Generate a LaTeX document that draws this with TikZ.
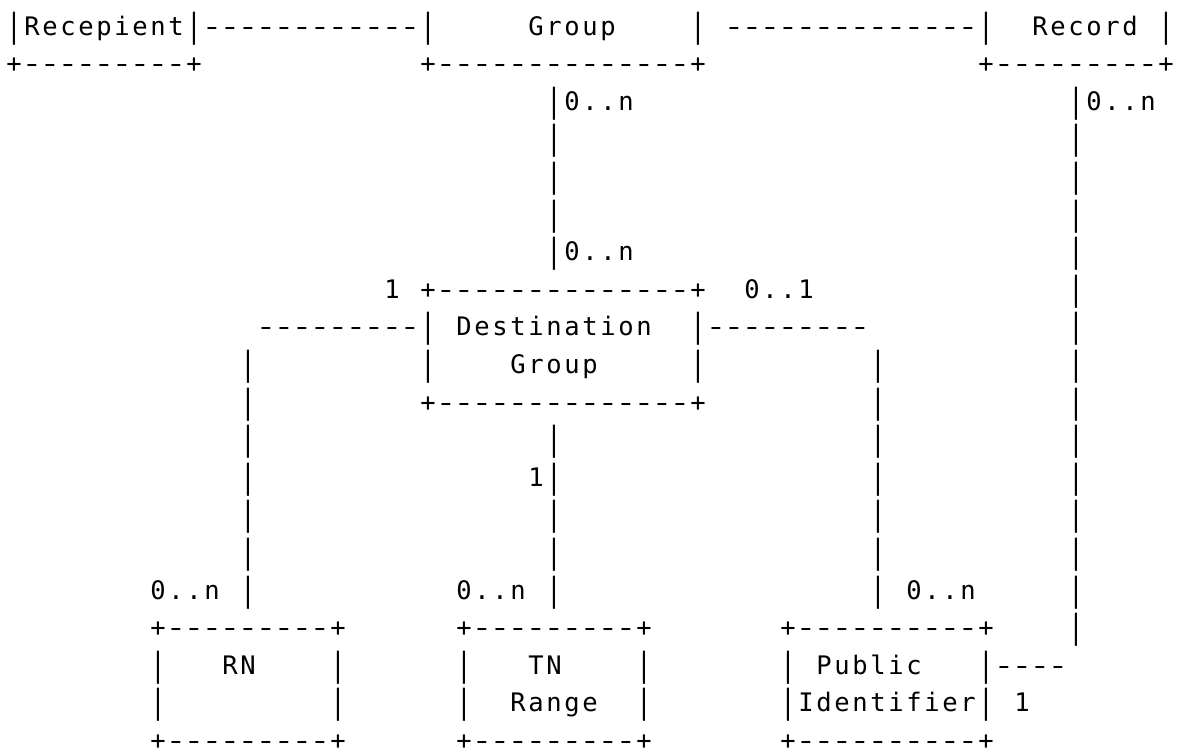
\documentclass[tikz,border=0pt]{standalone}
\usepackage{fontspec}
\usepackage{graphicx}
\newfontfamily\asciifont{DejaVu Sans Mono}
\def\asciistar{*}
\def\asciibar{|}
\def\asciidash{-}
\newcommand\asciicell{\makebox[18pt][c]{\ifx\asciich\asciistar\else
  \ifx\asciich\asciibar\raisebox{-2pt}{\scalebox{1}[1.3]{|}}\else
  \ifx\asciich\asciidash\scalebox{1.35}[1]{-}\else\asciich\fi\fi\fi}}
\makeatletter
\newcommand\asciirow[1]{\@tfor\asciich:=#1\do{\asciicell}}
\makeatother
\tikzset{
  ascii/.style={inner sep=0pt, outer sep=0pt, anchor=base west, text=black,
    font=\asciifont\fontsize{25.5pt}{30pt}\selectfont}
}
% \A{name}{column}{row}{characters, * = blank}
\newcommand\A[4]{\node[ascii] (#1) at ({5pt+18pt*#2},{-35pt-37.6pt*(#3-1)}) {\asciirow{#4}};}
\begin{document}
\begin{tikzpicture}
\fill[white] (0,0) rectangle (1185pt,-753pt);
\useasboundingbox (0,0) rectangle (1185pt,-753pt);
% row 1-2: top boxes
\A{top}{0}{1}{|Recepient|------------|*****Group****|*--------------|**Record*|}
\A{recb}{0}{2}{+---------+}
\A{grpb}{23}{2}{+--------------+}
\A{rcdb}{54}{2}{+---------+}
% rows 3-7
\A{ga3}{30}{3}{|0..n}
\A{ra3}{59}{3}{|0..n}
\A{ga4}{30}{4}{|}
\A{ra4}{59}{4}{|}
\A{ga5}{30}{5}{|}
\A{ra5}{59}{5}{|}
\A{ga6}{30}{6}{|}
\A{ra6}{59}{6}{|}
\A{ga7}{30}{7}{|0..n}
\A{ra7}{59}{7}{|}
% Destination Group box
\A{dgt}{21}{8}{1*+--------------+**0..1}
\A{ra8}{59}{8}{|}
\A{dg1}{14}{9}{---------|*Destination**|---------}
\A{ra9}{59}{9}{|}
\A{la10}{13}{10}{|}
\A{dg2}{23}{10}{|****Group*****|}
\A{pa10}{48}{10}{|}
\A{ra10}{59}{10}{|}
\A{la11}{13}{11}{|}
\A{dgb}{23}{11}{+--------------+}
\A{pa11}{48}{11}{|}
\A{ra11}{59}{11}{|}
% rows 12-16
\A{la12}{13}{12}{|}
\A{ta12}{30}{12}{|}
\A{pa12}{48}{12}{|}
\A{ra12}{59}{12}{|}
\A{la13}{13}{13}{|}
\A{ta13}{29}{13}{1|}
\A{pa13}{48}{13}{|}
\A{ra13}{59}{13}{|}
\A{la14}{13}{14}{|}
\A{ta14}{30}{14}{|}
\A{pa14}{48}{14}{|}
\A{ra14}{59}{14}{|}
\A{la15}{13}{15}{|}
\A{ta15}{30}{15}{|}
\A{pa15}{48}{15}{|}
\A{ra15}{59}{15}{|}
\A{la16}{8}{16}{0..n*|}
\A{ta16}{25}{16}{0..n*|}
\A{pa16}{48}{16}{|*0..n}
\A{ra16}{59}{16}{|}
% bottom boxes
\A{rnt}{8}{17}{+---------+}
\A{tnt}{25}{17}{+---------+}
\A{pit}{43}{17}{+----------+}
\A{ra17}{59}{17}{|}
\A{rn1}{8}{18}{|***RN****|}
\A{tn1}{25}{18}{|***TN****|}
\A{pi1}{43}{18}{|*Public***|----}
\A{rn2}{8}{19}{|*********|}
\A{tn2}{25}{19}{|**Range**|}
\A{pi2}{43}{19}{|Identifier|*1}
\A{rnb}{8}{20}{+---------+}
\A{tnb}{25}{20}{+---------+}
\A{pib}{43}{20}{+----------+}
\end{tikzpicture}
\end{document}
